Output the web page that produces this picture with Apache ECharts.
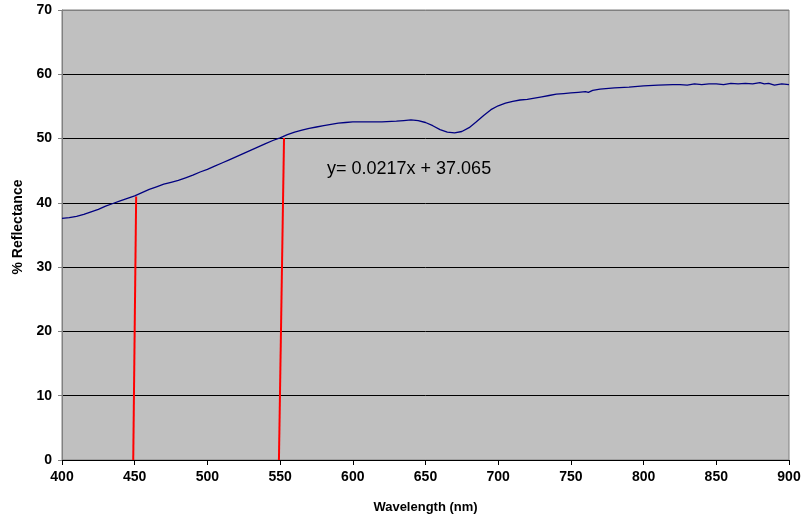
<!DOCTYPE html>
<html>
<head>
<meta charset="utf-8">
<script src="https://cdn.jsdelivr.net/npm/echarts@6/dist/echarts.min.js"></script>
<style>
  html, body { margin: 0; padding: 0; background: #ffffff; }
  #chart { width: 804px; height: 519px; }
</style>
</head>
<body>
<div id="chart"></div>
<script>
// Measured reflectance spectrum
const wavelengths = [
  400, 405, 410, 415, 420, 425, 430, 435, 440, 445,
  450, 455, 460, 465, 470, 475, 480, 485, 490, 495,
  500, 505, 510, 515, 520, 525, 530, 535, 540, 545,
  550, 555, 560, 565, 570, 575, 580, 585, 590, 595,
  600, 610, 620, 630, 635, 640, 645, 650, 655, 660,
  665, 670, 675, 680, 685, 690, 695, 700, 705, 710,
  715, 720, 725, 730, 735, 740, 745, 750, 755, 760,
  762, 765, 770, 780, 790, 800, 810, 820, 825, 830,
  835, 840, 845, 850, 855, 860, 865, 870, 875, 880,
  883, 886, 890, 895, 900
];
const reflectance = [
  37.6, 37.7, 37.9, 38.2, 38.6, 39.0, 39.5, 39.9, 40.3, 40.7,
  41.1, 41.6, 42.1, 42.5, 42.9, 43.2, 43.5, 43.9, 44.3, 44.8,
  45.2, 45.7, 46.2, 46.7, 47.2, 47.7, 48.2, 48.7, 49.2, 49.7,
  50.1, 50.6, 51.0, 51.3, 51.6, 51.8, 52.0, 52.2, 52.4, 52.5,
  52.6, 52.6, 52.6, 52.7, 52.8, 52.9, 52.8, 52.5, 52.0, 51.4,
  51.0, 50.9, 51.1, 51.7, 52.6, 53.6, 54.5, 55.1, 55.5, 55.8,
  56.0, 56.1, 56.3, 56.5, 56.7, 56.9, 57.0, 57.1, 57.2, 57.3,
  57.2, 57.5, 57.7, 57.9, 58.0, 58.2, 58.3, 58.4, 58.4, 58.3,
  58.5, 58.4, 58.5, 58.5, 58.4, 58.6, 58.5, 58.6, 58.5, 58.7,
  58.5, 58.6, 58.3, 58.5, 58.4
];

// Drop lines from the curve to the wavelength axis
const dropLine450 = [[449, 0], [451, 41.0]];
const dropLine550 = [[549.2, 0], [552.7, 50.1]];

const fitLabel = 'y= 0.0217x + 37.065';

const xTicks = { min: 400, max: 900, interval: 50 };
const yTicks = { min: 0, max: 70, interval: 10 };

const font = '"Liberation Sans", Arial, sans-serif';

const chart = echarts.init(document.getElementById('chart'), null, { renderer: 'canvas' });

const splitColors = [];
for (let v = yTicks.min; v <= yTicks.max; v += yTicks.interval) {
  splitColors.push(v === yTicks.max ? '#808080' : '#000000');
}

chart.setOption({
  animation: false,
  backgroundColor: '#ffffff',
  grid: {
    left: 62, right: 15, top: 10, bottom: 59,
    show: true,
    backgroundColor: '#C0C0C0',
    borderColor: '#808080',
    borderWidth: 1
  },
  xAxis: {
    type: 'value',
    min: xTicks.min, max: xTicks.max, interval: xTicks.interval,
    name: 'Wavelength (nm)',
    nameLocation: 'middle',
    nameGap: 41,
    nameTextStyle: { fontFamily: font, fontWeight: 'bold', fontSize: 13, color: '#000' },
    axisLine: { show: true, lineStyle: { color: '#000000', width: 1 } },
    axisTick: { show: true, length: 5, lineStyle: { color: '#000000' } },
    axisLabel: { fontFamily: font, fontWeight: 'bold', fontSize: 14, color: '#000', margin: 10 },
    splitLine: { show: false }
  },
  yAxis: {
    type: 'value',
    min: yTicks.min, max: yTicks.max, interval: yTicks.interval,
    name: '% Reflectance',
    nameLocation: 'middle',
    nameGap: 36,
    nameTextStyle: { fontFamily: font, fontWeight: 'bold', fontSize: 14, color: '#000', padding: [0, 0, 0, 16] },
    axisLine: { show: true, lineStyle: { color: '#808080', width: 1 } },
    axisTick: { show: true, length: 4, lineStyle: { color: '#808080' } },
    axisLabel: { fontFamily: font, fontWeight: 'bold', fontSize: 14, color: '#000', margin: 10 },
    splitLine: { show: true, lineStyle: { color: splitColors, width: 1 } }
  },
  graphic: [{
    type: 'text',
    left: 327, top: 160,
    style: { text: fitLabel, font: '18px ' + font, fill: '#000' }
  }],
  series: [
    {
      type: 'line',
      data: wavelengths.map((w, i) => [w, reflectance[i]]),
      showSymbol: false,
      smooth: false,
      lineStyle: { color: '#000080', width: 1.3 },
      z: 3
    },
    {
      type: 'line',
      data: dropLine450,
      showSymbol: false,
      lineStyle: { color: '#FF0000', width: 2 },
      z: 2
    },
    {
      type: 'line',
      data: dropLine550,
      showSymbol: false,
      lineStyle: { color: '#FF0000', width: 2 },
      z: 2
    }
  ]
});
</script>
</body>
</html>
